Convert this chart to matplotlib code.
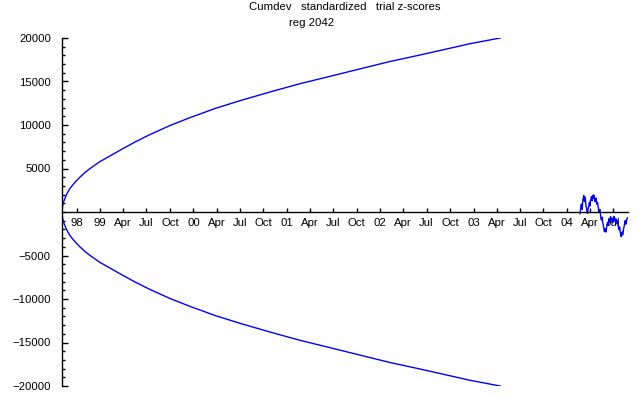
import matplotlib
matplotlib.use("Agg")
import matplotlib.pyplot as plt
import matplotlib.dates as mdates
from matplotlib.ticker import MultipleLocator
import numpy as np
from datetime import date, timedelta

# ---- data ----
start_date = date(1998, 8, 5)
end_date = date(2004, 8, 27)

# envelope (upper half; lower half is its mirror), day offsets from start_date
env_days = [0, 2, 4, 8, 12, 16, 23, 31, 43, 55, 70, 90, 117, 149, 188, 227, 286,
            344, 423, 501, 599, 697, 814, 931, 1049, 1166, 1283, 1401, 1499, 1597, 1714]
env_vals = [0, 600, 950, 1300, 1600, 1900, 2300, 2700, 3150, 3550, 4000, 4550,
            5150, 5800, 6450, 7100, 8050, 8900, 9950, 10850, 11900, 12800, 13800,
            14750, 15600, 16450, 17300, 18050, 18700, 19350, 20000]

# cumulative deviation for reg 2042, evenly spaced from walk_start to walk_end
walk_start = date(2004, 2, 21)
walk_end = date(2004, 8, 25)
walk_vals = [-200, 100, 400, 800, 900, 500, 300, 1100, 1500, 1600, 1900, 1400,
             1200, 1500, 1700, 1000, 600, 500, 200, -100, -150, 300, 500, 600,
             1000, 1100, 700, 1200, 1400, 1500, 1760, 1400, 1300, 1700, 1900, 1600,
             1950, 1800, 1500, 1200, 1200, 1500, 1600, 1200, 900, 1100, 1100, 700,
             500, 100, 0, 200, 300, -100, -400, -800, -900, -800, -600, -1100,
             -1300, -1500, -1800, -2100, -2270, -2000, -1900, -2200, -2300, -1900,
             -1700, -1500, -1200, -1500, -1500, -1000, -800, -1200, -1100, -700,
             -540, -800, -1000, -900, -700, -1000, -1200, -800, -900, -500,
             -600, -900, -1100, -1000, -800, -1100, -1300, -1200, -1000, -1400,
             -1600, -2000, -2040, -1700, -1800, -2300, -2500, -2700, -2840, -2500,
             -2300, -2600, -2600, -2200, -1900, -1700, -1500, -1200, -1000, -1300,
             -1400, -1100, -900, -700, -690]

tick_dates = [date(1998, 10, 1)]
for yr in range(1999, 2005):
    for m in (1, 4, 7, 10):
        tick_dates.append(date(yr, m, 1))
tick_dates = tick_dates[:24]
tick_labels = ["98", "99", "Apr", "Jul", "Oct", "00", "Apr", "Jul", "Oct",
               "01", "Apr", "Jul", "Oct", "02", "Apr", "Jul", "Oct",
               "03", "Apr", "Jul", "Oct", "04", "Apr", "Jul"]

yticks = [-20000, -15000, -10000, -5000, 5000, 10000, 15000, 20000]

title1 = "Cumdev   standardized   trial z-scores"
title2 = "reg 2042"

# ---- plot ----
plt.rcParams["font.family"] = ["Liberation Sans", "DejaVu Sans"]
fig = plt.figure(figsize=(6.4, 3.95), dpi=100)
ax = fig.add_axes([62 / 640, 1 - 386 / 395, (628 - 62) / 640, (386 - 38) / 395])

env_x = [mdates.date2num(start_date + timedelta(days=d)) for d in env_days]
ax.plot(env_x, env_vals, color="#0000ff", lw=1.0)
ax.plot(env_x, [-v for v in env_vals], color="#0000ff", lw=1.0)

walk_x = np.linspace(mdates.date2num(walk_start), mdates.date2num(walk_end), len(walk_vals))
ax.plot(walk_x, walk_vals, color="#0000ff", lw=1.0)

ax.set_xlim(mdates.date2num(start_date), mdates.date2num(end_date))
ax.set_ylim(-20000, 20000)

for s in ("top", "right"):
    ax.spines[s].set_visible(False)
ax.spines["bottom"].set_position(("data", 0))
ax.spines["bottom"].set_linewidth(1.0)
ax.spines["left"].set_linewidth(1.0)

ax.set_xticks([mdates.date2num(d) for d in tick_dates])
ax.set_xticklabels(tick_labels)
ax.set_yticks(yticks)
ax.yaxis.set_minor_locator(MultipleLocator(1000))

ax.tick_params(axis="x", direction="in", length=3, width=1, pad=4, labelsize=8.2)
ax.tick_params(axis="y", which="major", direction="in", length=4, width=1, pad=8, labelsize=8.2)
ax.tick_params(axis="y", which="minor", direction="in", length=2.5, width=1)

fig.text(345 / 640, 1 - 7.5 / 395, title1, ha="center", va="center", fontsize=8.2)
fig.text(312 / 640, 1 - 23.5 / 395, title2, ha="center", va="center", fontsize=8.2)

fig.savefig("out.png", dpi=100)
